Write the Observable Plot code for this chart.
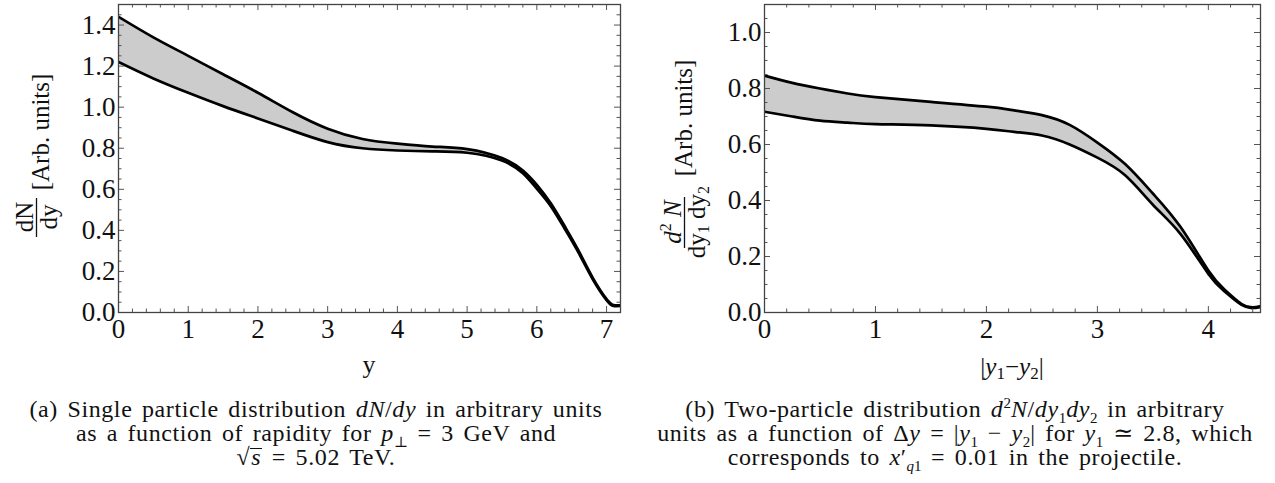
<!DOCTYPE html>
<html><head><meta charset="utf-8">
<script src="https://cdn.jsdelivr.net/npm/d3@7"></script>
<script src="https://cdn.jsdelivr.net/npm/@observablehq/plot@0.6"></script>
<style>
body{margin:0;background:#fff;}
#wrap{position:relative;width:1275px;height:483px;font-family:"Liberation Serif","Times New Roman",Times,"DejaVu Serif",serif;overflow:hidden;background:#fff;}
.panel{position:absolute;top:0;}
.cap{position:absolute;text-align:center;font-size:24px;line-height:24px;letter-spacing:0.6px;word-spacing:3px;color:#111;white-space:nowrap;}
.cap i{font-style:italic;}
.cap sub,.cap sup{line-height:0;font-size:15px;letter-spacing:0;}
.cap .ovl{display:inline-block;line-height:0.7;border-top:1.4px solid #111;padding:0 1px;}
</style></head><body>
<div id="wrap">
  <div class="panel" id="pa" style="left:0;"></div>
  <div class="panel" id="pb" style="left:640px;"></div>
  <div class="cap" style="left:0;width:632px;top:397px;">(a) Single particle distribution <i>dN</i>/<i>dy</i> in arbitrary units<br>as a function of rapidity for <i>p</i><sub>⊥</sub> = 3 GeV and<br>√<span class="ovl"><i>s</i></span> = 5.02 TeV.</div>
  <div class="cap" style="left:640px;width:630px;top:397px;">(b) Two-particle distribution <i>d</i><sup>2</sup><i>N</i>/<i>dy</i><sub>1</sub><i>dy</i><sub>2</sub> in arbitrary<br>units as a function of Δ<i>y</i> = |<i>y</i><sub>1</sub> − <i>y</i><sub>2</sub>| for <i>y</i><sub>1</sub> ≃ 2.8, which<br>corresponds to <i>x</i>′<sub><i>q</i>1</sub> = 0.01 in the projectile.</div>
</div>
<script>
// ---- Panel (a): single particle distribution dN/dy vs rapidity y
const singleY     = [0, 0.5, 1, 1.5, 2, 2.5, 3, 3.5, 4, 4.5, 5, 5.5, 5.8, 6, 6.2, 6.4, 6.6, 6.8, 7.0, 7.1, 7.2];
const singleUpper = [1.44, 1.34, 1.25, 1.16, 1.07, 0.975, 0.895, 0.845, 0.822, 0.808, 0.796, 0.752, 0.692, 0.622, 0.532, 0.42, 0.30, 0.17, 0.065, 0.036, 0.035];
const singleLower = [1.22, 1.14, 1.07, 1.005, 0.945, 0.885, 0.83, 0.80, 0.789, 0.785, 0.778, 0.74, 0.678, 0.603, 0.518, 0.408, 0.29, 0.163, 0.06, 0.032, 0.032];
const singleTicksX = [0, 1, 2, 3, 4, 5, 6, 7];
const singleTicksY = [0, 0.2, 0.4, 0.6, 0.8, 1.0, 1.2, 1.4];

// ---- Panel (b): two-particle distribution vs |y1 - y2|
const pairDy    = [0, 0.25, 0.5, 0.75, 1, 1.5, 2, 2.25, 2.5, 2.75, 3, 3.25, 3.5, 3.75, 4, 4.15, 4.3, 4.4, 4.47];
const pairUpper = [0.846, 0.82, 0.80, 0.782, 0.769, 0.752, 0.735, 0.722, 0.705, 0.67, 0.607, 0.53, 0.425, 0.305, 0.15, 0.08, 0.03, 0.018, 0.022];
const pairLower = [0.717, 0.70, 0.685, 0.678, 0.673, 0.668, 0.656, 0.645, 0.632, 0.60, 0.553, 0.49, 0.385, 0.28, 0.138, 0.074, 0.027, 0.016, 0.02];
const pairTicksX = [0, 1, 2, 3, 4];
const pairTicksY = [0, 0.2, 0.4, 0.6, 0.8, 1.0];

const FONT = '"Liberation Serif","Times New Roman",Times,"DejaVu Serif",serif';
const NS = "http://www.w3.org/2000/svg";

function panel({xs, up, lo, xDomain, yDomain, xMajor, xMinor, yMajor, yMinor, width, height, mL, mR, mT, mB}) {
  const rows = xs.map((x, i) => ({x, up: up[i], lo: lo[i]}));
  const pw = width - mL - mR, ph = height - mT - mB;
  const L = 6, l = 3.5, tc = "#555";
  return Plot.plot({
    width, height, marginLeft: mL, marginRight: mR, marginTop: mT, marginBottom: mB,
    x: {domain: xDomain}, y: {domain: yDomain},
    style: {fontFamily: FONT, fontSize: "27px", color: "#111", background: "white", overflow: "visible"},
    marks: [
      Plot.areaY(rows, {x: "x", y1: "lo", y2: "up", fill: "#cccccc", curve: "natural", clip: true}),
      Plot.line(rows, {x: "x", y: "up", stroke: "#000", strokeWidth: 2.7, curve: "natural", clip: true}),
      Plot.line(rows, {x: "x", y: "lo", stroke: "#000", strokeWidth: 2.7, curve: "natural", clip: true}),
      Plot.tickX(xMajor, {x: d => d, insetTop: ph - L, stroke: tc}),
      Plot.tickX(xMajor, {x: d => d, insetBottom: ph - L, stroke: tc}),
      Plot.tickX(xMinor, {x: d => d, insetTop: ph - l, stroke: tc}),
      Plot.tickX(xMinor, {x: d => d, insetBottom: ph - l, stroke: tc}),
      Plot.tickY(yMajor, {y: d => d, insetRight: pw - L, stroke: tc}),
      Plot.tickY(yMajor, {y: d => d, insetLeft: pw - L, stroke: tc}),
      Plot.tickY(yMinor, {y: d => d, insetRight: pw - l, stroke: tc}),
      Plot.tickY(yMinor, {y: d => d, insetLeft: pw - l, stroke: tc}),
      Plot.frame({stroke: "#444", strokeWidth: 1.3}),
      Plot.axisX(xMajor, {tickSize: 0, tickPadding: 6, label: null, fill: "#111"}),
      Plot.axisY(yMajor, {tickSize: 0, tickPadding: 3, label: null, tickFormat: d3.format(".1f"), fill: "#111"})
    ]
  });
}

function addText(svg, attrs, parts) {
  const t = document.createElementNS(NS, "text");
  for (const k in attrs) t.setAttribute(k, attrs[k]);
  t.setAttribute("font-family", FONT);
  t.setAttribute("fill", "#111");
  for (const p of parts) {
    const s = document.createElementNS(NS, "tspan");
    if (typeof p === "string") s.textContent = p;
    else { s.textContent = p.t; for (const k in p) if (k !== "t") s.setAttribute(k, p[k]); }
    t.appendChild(s);
  }
  svg.appendChild(t);
  return t;
}
function addLine(svg, x1, y1, x2, y2) {
  const ln = document.createElementNS(NS, "line");
  ln.setAttribute("x1", x1); ln.setAttribute("y1", y1); ln.setAttribute("x2", x2); ln.setAttribute("y2", y2);
  ln.setAttribute("stroke", "#111"); ln.setAttribute("stroke-width", 1.3);
  svg.appendChild(ln);
}

const minorOf = (lo, hi, step, majors) => d3.range(lo, hi + 1e-9, step).map(v => +v.toFixed(4)).filter(v => !majors.some(m => Math.abs(m - v) < 1e-6));

// Panel (a)
const svgA = panel({
  xs: singleY, up: singleUpper, lo: singleLower,
  xDomain: [0, 7.2], yDomain: [0, 1.5],
  xMajor: singleTicksX, xMinor: minorOf(0, 7.2, 0.2, singleTicksX),
  yMajor: singleTicksY, yMinor: minorOf(0, 1.5, 0.05, singleTicksY),
  width: 640, height: 395, mL: 118, mR: 20, mT: 4, mB: 83
});
document.getElementById("pa").appendChild(svgA);
addText(svgA, {x: 369, y: 373, "text-anchor": "middle", "font-size": 26}, ["y"]);
addText(svgA, {transform: "translate(33,217) rotate(-90)", "text-anchor": "middle", "font-size": 25}, ["dN"]);
addLine(svgA, 36.5, 198, 36.5, 237);
addText(svgA, {transform: "translate(57,217) rotate(-90)", "text-anchor": "middle", "font-size": 25}, ["dy"]);
addText(svgA, {transform: "translate(49,132) rotate(-90)", "text-anchor": "middle", "font-size": 25}, ["[Arb. units]"]);

// Panel (b)
const svgB = panel({
  xs: pairDy, up: pairUpper, lo: pairLower,
  xDomain: [0, 4.47], yDomain: [0, 1.1],
  xMajor: pairTicksX, xMinor: minorOf(0, 4.47, 0.2, pairTicksX),
  yMajor: pairTicksY, yMinor: minorOf(0, 1.1, 0.05, pairTicksY),
  width: 635, height: 395, mL: 124, mR: 15, mT: 4, mB: 83
});
document.getElementById("pb").appendChild(svgB);
addText(svgB, {x: 372, y: 375, "text-anchor": "middle", "font-size": 25},
  ["|", {t: "y", "font-style": "italic"}, {t: "1", "font-size": 17, dy: 4}, {t: "−", dy: -4}, {t: "y", "font-style": "italic"}, {t: "2", "font-size": 17, dy: 4}, {t: "|", dy: -4}]);
addText(svgB, {transform: "translate(41,222) rotate(-90)", "text-anchor": "middle", "font-size": 25},
  [{t: "d", "font-style": "italic"}, {t: "2", "font-size": 16, dy: -10}, {t: " N", "font-style": "italic", dy: 10}]);
addLine(svgB, 44.5, 197, 44.5, 248);
addText(svgB, {transform: "translate(65,222) rotate(-90)", "text-anchor": "middle", "font-size": 25},
  ["dy", {t: "1", "font-size": 16, dy: 4}, {t: " dy", dy: -4}, {t: "2", "font-size": 16, dy: 4}]);
addText(svgB, {transform: "translate(52,118) rotate(-90)", "text-anchor": "middle", "font-size": 25}, ["[Arb. units]"]);
</script>
</body></html>
